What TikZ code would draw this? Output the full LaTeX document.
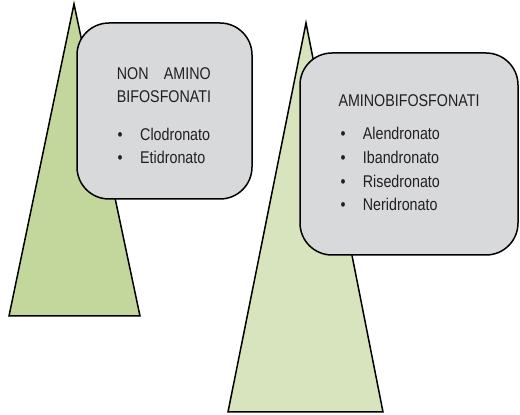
\documentclass[tikz,border=0pt]{standalone}
\usepackage{fontspec}
\setmainfont{Liberation Sans}[FakeStretch=0.84]
\usepackage{tikz}
\definecolor{GREENA}{HTML}{C3D69B}
\definecolor{GREENB}{HTML}{D7E4BD}
\definecolor{GREY}{HTML}{D8D9DA}
\definecolor{INK}{HTML}{231F20}
\definecolor{BLACK}{HTML}{000000}

\begin{document}
\begin{tikzpicture}[x=1pt, y=1pt, font=\fontsize{17}{20}\selectfont,
    box/.style={draw=BLACK, fill=GREY, line width=1.5pt, rounded corners=32pt, inner sep=0pt},
    txt/.style={INK, anchor=base west, inner sep=0pt}]
    \useasboundingbox (0,0) rectangle (520,415);
    % left group
    \draw[BLACK, line width=1.5pt, fill=GREENA, line join=miter] (74,411) -- (9,99) -- (140,99) -- cycle;
    \node[box, minimum width=175pt, minimum height=176pt] (nonbox) at (164.5,304) {};
    \node[txt] (nonA) at (116.7,335.7) {NON\hspace{0.9em}AMINO};
    \node[txt] (nonB) at (116.7,312) {BIFOSFONATI};
    \node[txt] (dotA) at (117.5,274.3) {•};
    \node[txt] (clod) at (140,274.3) {Clodronato};
    \node[txt] (dotB) at (117.5,251) {•};
    \node[txt] (etid) at (140,251) {Etidronato};
    % right group
    \draw[BLACK, line width=1.5pt, fill=GREENB, line join=miter] (306,392) -- (228,3) -- (383,3) -- cycle;
    \node[box, minimum width=218pt, minimum height=202pt] (aminobox) at (409,261) {};
    \node[txt] (amino) at (338.3,308.3) {AMINOBIFOSFONATI};
    \node[txt] (dotC) at (340.5,275.7) {•};
    \node[txt] (alen) at (362.7,275.7) {Alendronato};
    \node[txt] (dotD) at (340.5,251.7) {•};
    \node[txt] (iban) at (362.7,251.7) {Ibandronato};
    \node[txt] (dotE) at (340.5,227.3) {•};
    \node[txt] (rise) at (362.7,227.3) {Risedronato};
    \node[txt] (dotF) at (340.5,204) {•};
    \node[txt] (neri) at (362.7,204) {Neridronato};
\end{tikzpicture}
\end{document}
